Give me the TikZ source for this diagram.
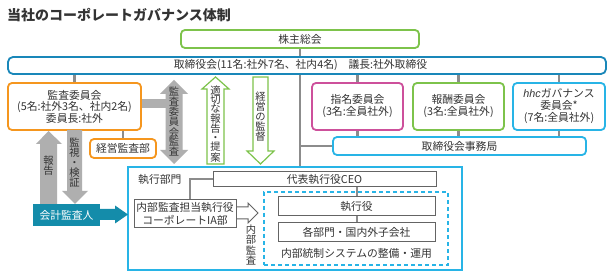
\documentclass[tikz,border=0pt]{standalone}
\usepackage{fontspec}
\setmainfont{Noto Sans CJK JP}
\newfontfamily\latinsans{Liberation Sans}
\definecolor{txt}{RGB}{51,51,51}
\definecolor{lgray}{RGB}{140,140,140}
\definecolor{agray}{RGB}{175,175,175}
\definecolor{ggreen}{RGB}{125,195,75}
\definecolor{bblue}{RGB}{25,135,185}
\definecolor{oorange}{RGB}{245,150,30}
\definecolor{mmag}{RGB}{205,80,155}
\definecolor{ccyan}{RGB}{40,180,230}
\definecolor{tteal}{RGB}{20,140,170}
\definecolor{bgray}{RGB}{100,100,100}
\tikzset{
  rbox/.style={draw, line width=1.8pt, rounded corners=4pt, inner sep=0pt, align=center, text=txt, fill=white},
  sbox/.style={draw=bgray, line width=1pt, inner sep=0pt, align=center, text=txt, fill=white},
  gline/.style={draw=lgray, line width=2.4pt},
  gline2/.style={draw=lgray, line width=2pt},
  vt/.style={align=center, font=\fontsize{10.3}{10}\selectfont, text=txt, inner sep=0pt},
  garrow/.style={fill=agray},
  grarrow/.style={draw=ggreen, fill=white, line width=1.2pt, line join=miter},
}
\begin{document}
\begin{tikzpicture}[x=1pt,y=-1pt, font=\fontsize{10.8}{12}\selectfont]
\useasboundingbox[fill=white] (0,0) rectangle (613,280);

% title
\node[anchor=west, inner sep=0pt, text=txt, font=\fontsize{14}{16}\selectfont\bfseries] (title) at (7,15) {当社のコーポレートガバナンス体制};

\node[rbox, draw=ggreen, minimum width=238, minimum height=18] (sh) at (300,39) {株主総会};
\node[rbox, draw=bblue, rounded corners=5pt, minimum width=598, minimum height=17] (bod) at (307,65.5) {};
\node[inner sep=0pt, text=txt] (bodt) at (300.5,65.5) {取締役会(11名:社外7名、社内4名)\quad 議長:社外取締役};

\node[rbox, draw=oorange, minimum width=133, minimum height=47, font=\fontsize{10.8}{11.5}\selectfont] (ac) at (74.5,106.5) {監査委員会\\(5名:社外3名、社内2名)\\委員長:社外};
\node[rbox, draw=mmag, minimum width=91, minimum height=47] (nom) at (357.5,106.5) {指名委員会\\(3名:全員社外)};
\node[rbox, draw=ggreen, minimum width=91, minimum height=47] (rem) at (458.5,106.5) {報酬委員会\\(3名:全員社外)};
\node[rbox, draw=ccyan, minimum width=92, minimum height=47] (hhc) at (559,106.5) {{\latinsans\itshape hhc}ガバナンス\\委員会*\\(7名:全員社外)};
\node[rbox, draw=ccyan, minimum width=253, minimum height=18] (sec) at (459.5,146) {取締役会事務局};

\node[rbox, draw=oorange, minimum width=66, minimum height=19] (iad) at (123,148.5) {経営監査部};

% executive box
\node[draw=ccyan, line width=2pt, minimum width=334, minimum height=103, inner sep=0pt, fill=white] (exec) at (295,218.5) {};
\node[anchor=west, inner sep=0pt, text=txt] (execl) at (138,179) {執行部門};
\node[sbox, minimum width=223, minimum height=15] (ceo) at (324.5,179.5) {代表執行役CEO};
\node[draw=ccyan, line width=2.2pt, dash pattern=on 4pt off 3pt, minimum width=184, minimum height=73, inner sep=0pt] (ic) at (356,228.5) {};
\node[sbox, minimum width=157, minimum height=19] (eo) at (356.5,206.5) {執行役};
\node[sbox, minimum width=157, minimum height=19] (dept) at (356.5,232.5) {各部門・国内外子会社};
\node[inner sep=0pt, text=txt] (ict) at (356.5,253.5) {内部統制システムの整備・運用};
\node[sbox, minimum width=102, minimum height=28, font=\fontsize{10.8}{12.5}\selectfont] (ia) at (185,214) {内部監査担当執行役\\コーポレートIA部};

% auditor
\node[fill=tteal, text=white, minimum width=67, minimum height=22, inner sep=0pt] (aud) at (66.5,215) {会計監査人};

% gray connector lines
\draw[gline] (sh.south) -- (sh.south |- bod.north);
\draw[gline] (bod.south -| ac.north) -- (ac.north);
\draw[gline] (bod.south -| sh.south) -- (exec.north -| sh.south);
\draw[gline] (sec.west -| sh.south) -- (sec.west);
\draw[gline] (bod.south -| nom.north) -- (nom.north);
\draw[gline] (bod.south -| rem.north) -- (rem.north);
\draw[gline] (bod.south -| hhc.north) -- (hhc.north);
\draw[gline] (nom.south) -- (nom.south |- sec.north);
\draw[gline] (rem.south) -- (rem.south |- sec.north);
\draw[gline] (hhc.south) -- (hhc.south |- sec.north);
\draw[gline] (ac.south -| iad.north) -- (iad.north);
\coordinate (iatop) at ([xshift=5pt]ia.north);
\draw[gline2] (ceo.west) -| (iatop);
\draw[gline2] (ceo.south -| eo.north) -- (eo.north);
\draw[gline2] (eo.south) -- (dept.north);

% gray band from audit committee
\fill[agray] (ac.east |- 0,99) rectangle (166,108);

% gray block arrows
\fill[garrow] (40,204) -- (40,144) -- (36,144) -- (48.5,131) -- (62,144) -- (57,144) -- (57,204) -- cycle;
\node[vt] (t1) at (48.5,166) {報\\告};
\fill[garrow] (67,130) -- (82,130) -- (82,191) -- (88,191) -- (75,204) -- (62,191) -- (67,191) -- cycle;
\node[vt] (t2) at (74.5,163) {監\\視\\・\\検\\証};
\fill[garrow] (174,80) -- (188,94) -- (182.5,94) -- (182.5,150) -- (188,150) -- (174,164) -- (160,150) -- (165.5,150) -- (165.5,94) -- (160,94) -- cycle;
\node[vt] (t3) at (174,122) {監\\査\\委\\員\\会\\監\\査};

% teal arrow
\fill[tteal] (aud.east |- 0,209) -- (115,209) -- (115,205.5) -- (128,214.5) -- (115,223.5) -- (115,220) -- (aud.east |- 0,220) -- cycle;

% green outlined arrows
\draw[grarrow] (207,164) -- (207,89) -- (202,89) -- (215.5,77) -- (229,89) -- (224,89) -- (224,164) -- cycle;
\node[vt, font=\fontsize{10.3}{9.2}\selectfont] (t4) at (215.5,124) {適\\切\\な\\報\\告\\・\\提\\案};
\draw[grarrow] (253,77) -- (268,77) -- (268,151) -- (274,151) -- (260.5,164) -- (247,151) -- (253,151) -- cycle;
\node[vt] (t5) at (260.5,117) {経\\営\\の\\監\\督};

% open arrow from internal audit box
\fill[white] (ia.east |- 0,207.5) rectangle (249,218.5);
\fill[white] (248,203) -- (258,213) -- (248,223) -- cycle;
\draw[draw=bgray, line width=1pt, line join=miter] (ia.east |- 0,207) -- (248,207) -- (248,203) -- (258,213) -- (248,223) -- (248,219) -- (ia.east |- 0,219);
\node[vt, font=\fontsize{10.3}{10.5}\selectfont] (t6) at (251,245) {内\\部\\監\\査};
\end{tikzpicture}
\end{document}
